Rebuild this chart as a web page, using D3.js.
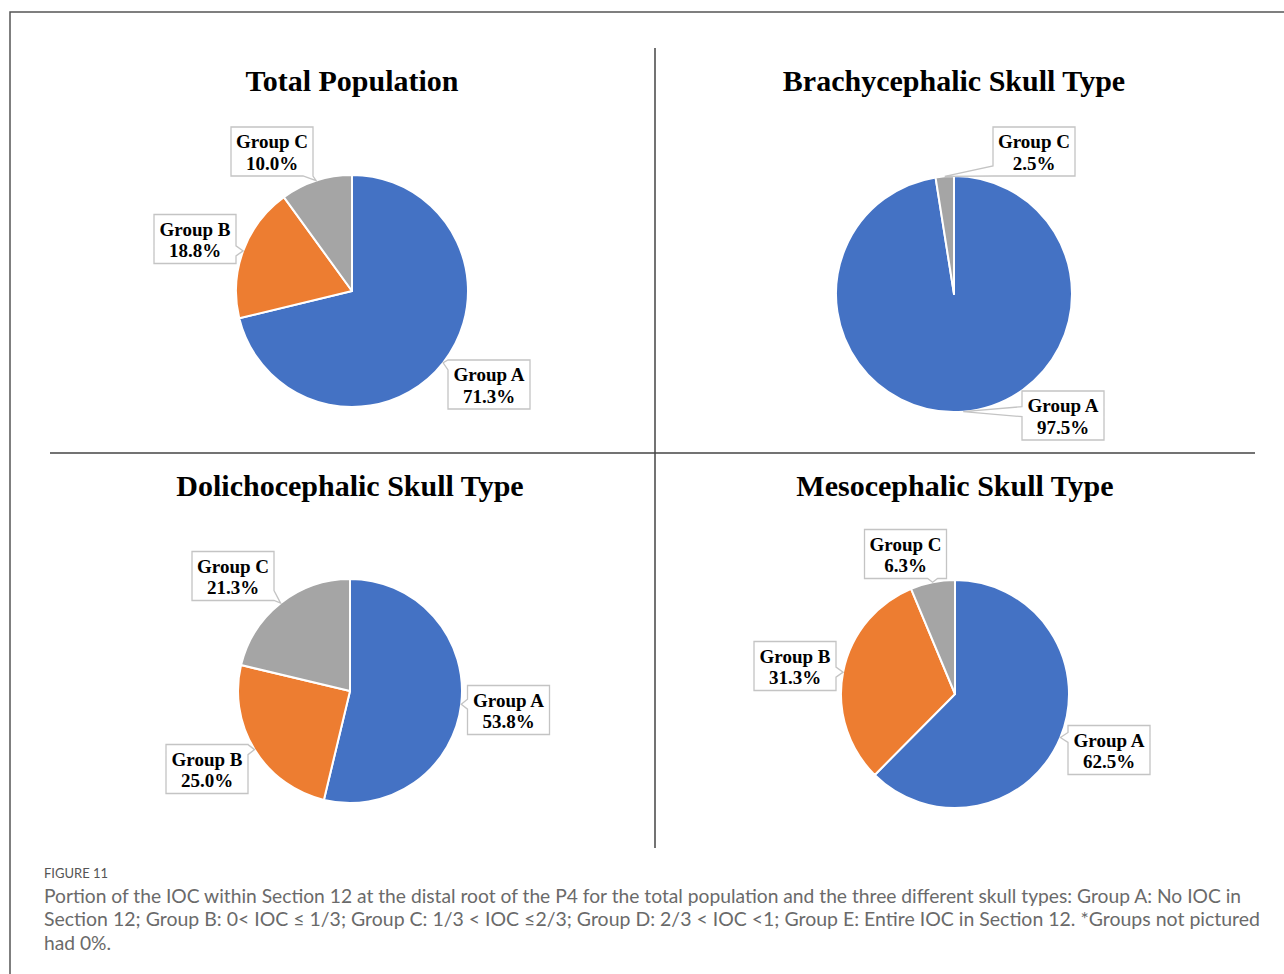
<!DOCTYPE html>
<html>
<head>
<meta charset="utf-8">
<script src="https://cdn.jsdelivr.net/npm/d3@7"></script>
<style>
  html, body { margin: 0; padding: 0; background: #fff; }
  svg { display: block; }
</style>
</head>
<body>
<svg id="chart" width="1284" height="974"></svg>
<script>
// ---------- data ----------
const groups = ["Group A", "Group B", "Group C"];
const chartTitles = ["Total Population", "Brachycephalic Skull Type", "Dolichocephalic Skull Type", "Mesocephalic Skull Type"];
const totalValues = [71.3, 18.8, 10.0];
const brachyValues = [97.5, 0, 2.5];
const dolichoValues = [53.8, 25.0, 21.3];
const mesoValues = [62.5, 31.3, 6.3];
const seriesValues = [totalValues, brachyValues, dolichoValues, mesoValues];
const figureLabel = "FIGURE 11";
const captionLines = [
  "Portion of the IOC within Section 12 at the distal root of the P4 for the total population and the three different skull types: Group A: No IOC in",
  "Section 12; Group B: 0< IOC \u2264 1/3; Group C: 1/3 < IOC \u22642/3; Group D: 2/3 < IOC <1; Group E: Entire IOC in Section 12. *Groups not pictured",
  "had 0%."
];

// ---------- layout (not data) ----------
const colors = ["#4472C4", "#ED7D31", "#A5A5A5"];
const panels = [
  { cx: 352, cy: 291, r: 116, titleY: 91, offsets: [[137, 93.5], [-157, -52], [-80, -139.5]] },
  { cx: 954, cy: 294, r: 118, titleY: 91, offsets: [[109, 121.5], null, [80, -142.5]] },
  { cx: 350, cy: 691, r: 112, titleY: 496, offsets: [[158.5, 19], [-143, 78], [-117, -115]] },
  { cx: 955, cy: 694, r: 114, titleY: 496, offsets: [[154, 56], [-160, -28], [-49.5, -140]] }
];
const boxW = 82, boxH = 49;

const svg = d3.select("#chart");

// frame
svg.append("path").attr("d", "M10,974 L10,12 L1284,12")
  .attr("fill", "none").attr("stroke", "#555").attr("stroke-width", 1.5);
// dividers
svg.append("line").attr("x1", 655).attr("x2", 655).attr("y1", 48).attr("y2", 848)
  .attr("stroke", "#444").attr("stroke-width", 1.5);
svg.append("line").attr("x1", 50).attr("x2", 1255).attr("y1", 453).attr("y2", 453)
  .attr("stroke", "#444").attr("stroke-width", 1.5);

const color = d3.scaleOrdinal().domain(groups).range(colors);
const pie = d3.pie().sort(null).value(d => d.value);
const fmt = d3.format(".1f");

function calloutPath(x0, y0, x1, y1, ax, ay) {
  const half = 5;
  const dx = ax < x0 ? x0 - ax : (ax > x1 ? ax - x1 : 0);
  const dy = ay < y0 ? y0 - ay : (ay > y1 ? ay - y1 : 0);
  let side;
  if (dx >= dy) side = ax < x0 ? "left" : "right";
  else side = ay < y0 ? "top" : "bottom";
  const clampB = (v, lo, hi) => Math.max(lo + half, Math.min(hi - half, v));
  let p = [];
  p.push([x0, y0]);
  if (side === "top") { const b = clampB(ax, x0, x1); p.push([b - half, y0], [ax, ay], [b + half, y0]); }
  p.push([x1, y0]);
  if (side === "right") { const b = clampB(ay, y0, y1); p.push([x1, b - half], [ax, ay], [x1, b + half]); }
  p.push([x1, y1]);
  if (side === "bottom") { const b = clampB(ax, x0, x1); p.push([b + half, y1], [ax, ay], [b - half, y1]); }
  p.push([x0, y1]);
  if (side === "left") { const b = clampB(ay, y0, y1); p.push([x0, b + half], [ax, ay], [x0, b - half]); }
  return "M" + p.map(q => q[0] + "," + q[1]).join("L") + "Z";
}

panels.forEach((pn, i) => {
  const data = groups.map((g, j) => ({ group: g, value: seriesValues[i][j], idx: j }))
    .filter(d => d.value > 0);
  const arcs = pie(data);
  const arc = d3.arc().innerRadius(0).outerRadius(pn.r);
  const g = svg.append("g").attr("transform", `translate(${pn.cx},${pn.cy})`);

  g.selectAll("path.slice").data(arcs).join("path")
    .attr("class", "slice")
    .attr("d", arc)
    .attr("fill", d => color(d.data.group))
    .attr("stroke", "#fff").attr("stroke-width", 2).attr("stroke-linejoin", "round");

  svg.append("text").attr("x", pn.cx).attr("y", pn.titleY)
    .attr("text-anchor", "middle")
    .attr("font-family", "'Liberation Serif', 'Times New Roman', serif")
    .attr("font-weight", "bold").attr("font-size", 30).attr("fill", "#000")
    .text(chartTitles[i]);

  arcs.forEach(a => {
    const off = pn.offsets[a.data.idx];
    if (!off) return;
    const mid = (a.startAngle + a.endAngle) / 2;
    const ax = Math.sin(mid) * pn.r, ay = -Math.cos(mid) * pn.r;
    const bx = off[0], by = off[1];
    const x0 = bx - boxW / 2, x1 = bx + boxW / 2, y0 = by - boxH / 2, y1 = by + boxH / 2;
    g.append("path").attr("d", calloutPath(x0, y0, x1, y1, ax, ay))
      .attr("fill", "#fff").attr("stroke", "#c4c4c4").attr("stroke-width", 1.3);
    const t = g.append("text").attr("text-anchor", "middle")
      .attr("font-family", "'Liberation Serif', 'Times New Roman', serif")
      .attr("font-weight", "bold").attr("font-size", 19).attr("fill", "#000");
    t.append("tspan").attr("x", bx).attr("y", by - 3.5).text(a.data.group);
    t.append("tspan").attr("x", bx).attr("y", by + 18).text(fmt(a.data.value) + "%");
  });
});

// caption
svg.append("text").attr("x", 44).attr("y", 878)
  .attr("font-family", "Lato, 'Open Sans', sans-serif").attr("font-size", 13)
  .attr("fill", "#555").text(figureLabel);

const capTargets = [1197, 1216, null];
const capYs = [903, 926, 950];
let capSize = 17;
const cap = svg.append("g").attr("font-family", "Lato, 'Open Sans', sans-serif").attr("fill", "#6a6a6a");
const tmp = cap.append("text").attr("font-size", capSize).text(captionLines[0]);
const w0 = tmp.node().getComputedTextLength();
tmp.remove();
capSize = capSize * capTargets[0] / w0;
captionLines.forEach((ln, k) => {
  const t = cap.append("text").attr("x", 44).attr("y", capYs[k]).attr("font-size", capSize).text(ln);
  if (capTargets[k]) t.attr("textLength", capTargets[k]).attr("lengthAdjust", "spacingAndGlyphs");
});
</script>
</body>
</html>
